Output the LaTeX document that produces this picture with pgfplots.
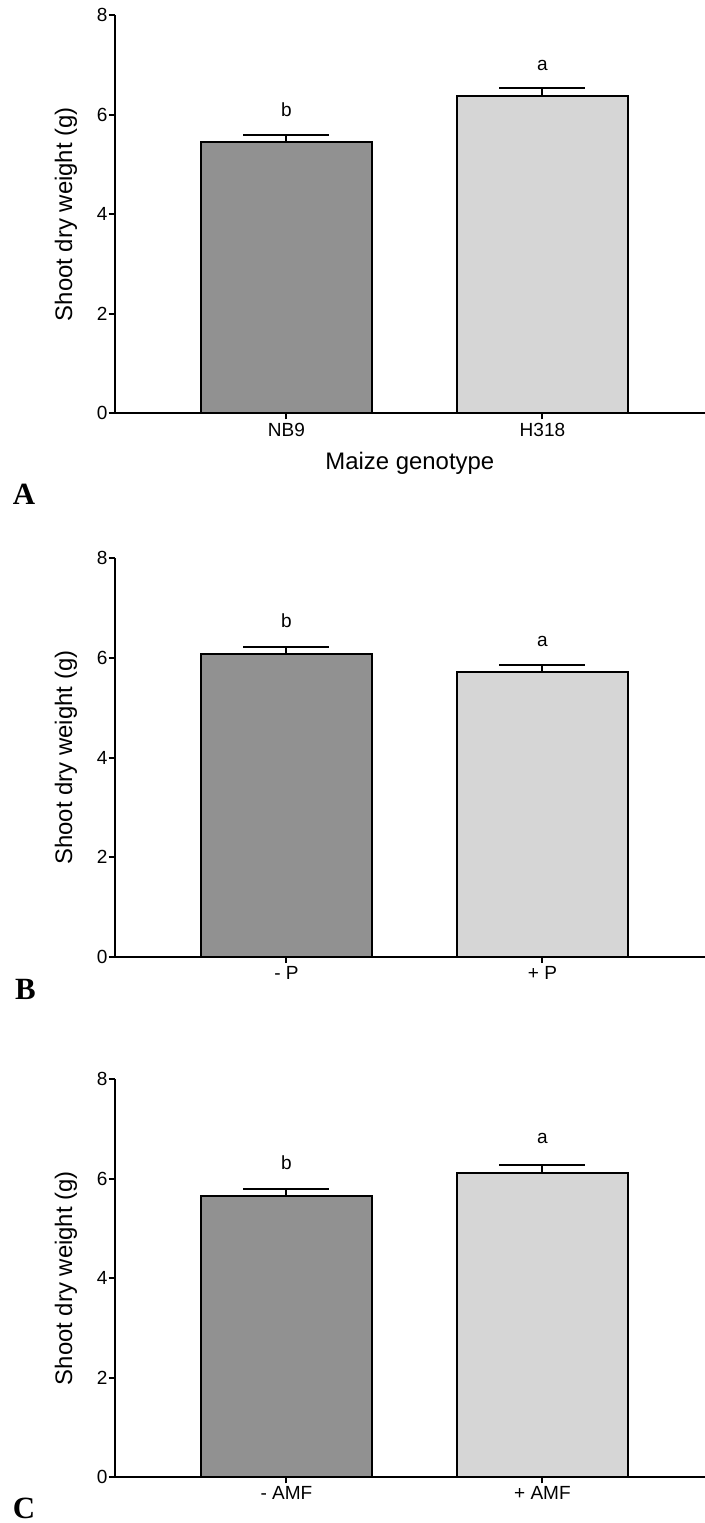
\documentclass[border=0pt]{standalone}
\usepackage{fontspec}
\setmainfont{Liberation Sans}
\newfontfamily\seriffont{Liberation Serif}
\usepackage{pgfplots}
\pgfplotsset{compat=1.18}
\definecolor{darkbar}{RGB}{145,145,145}
\definecolor{lightbar}{RGB}{214,214,214}
\pgfplotsset{
  panel/.style={
    scale only axis, width=590.3bp, height=398.3bp,
    xmin=-0.671, xmax=1.635, ymin=0, ymax=8,
    axis x line*=bottom, axis y line*=left,
    tick pos=left,
    ytick={0,2,4,6,8}, xtick={0,1},
    tick align=outside, major tick length=6bp,
    axis line style={line width=2bp, black},
    tick style={line width=2bp, black},
    ticklabel style={font=\fontsize{19.1pt}{23pt}\selectfont},
    /pgf/number format/assume math mode=true,
    yticklabel style={inner xsep=1bp},
    ylabel={Shoot dry weight (g)},
    ylabel style={font=\fontsize{24pt}{28pt}\selectfont, at={(axis description cs:-0.0826,0.5)}, anchor=center},
    ybar, bar width=171bp, bar shift=0pt,
    clip=false,
  },
  barplot/.style={draw=black, line width=2bp, fill=#1,
    error bars/.cd, y dir=plus, y explicit,
    error bar style={line width=2bp, black},
    error mark options={rotate=90, mark size=43bp, line width=2bp, black}},
}
\tikzset{letter/.style={font=\fontsize{19.1pt}{23pt}\selectfont, anchor=base}}
\begin{document}
\begin{tikzpicture}
\useasboundingbox (0,0) rectangle (705bp,-1523bp);
% Panel A
\begin{axis}[panel, at={(114.7bp,-413.3bp)}, anchor=south west,
  xticklabels={NB9,H318},
  xlabel={Maize genotype},
  xlabel style={font=\fontsize{24pt}{28pt}\selectfont, at={(axis description cs:0.5,-0.125)}, anchor=center}]
\addplot[barplot=darkbar] coordinates {(0,5.45) +- (0,0.13)};
\addplot[barplot=lightbar] coordinates {(1,6.38) +- (0,0.15)};
\node[letter] at (axis cs:0,5.96) {b};
\node[letter] at (axis cs:1,6.88) {a};
\end{axis}
% Panel B
\begin{axis}[panel, at={(114.7bp,-956.7bp)}, anchor=south west,
  xticklabels={- P,+ P}]
\addplot[barplot=darkbar] coordinates {(0,6.07) +- (0,0.16)};
\addplot[barplot=lightbar] coordinates {(1,5.71) +- (0,0.14)};
\node[letter] at (axis cs:0,6.62) {b};
\node[letter] at (axis cs:1,6.24) {a};
\end{axis}
% Panel C
\begin{axis}[panel, at={(114.7bp,-1477.3bp)}, anchor=south west,
  xticklabels={- AMF,+ AMF}]
\addplot[barplot=darkbar] coordinates {(0,5.65) +- (0,0.14)};
\addplot[barplot=lightbar] coordinates {(1,6.12) +- (0,0.15)};
\node[letter] at (axis cs:0,6.19) {b};
\node[letter] at (axis cs:1,6.70) {a};
\end{axis}
\node[anchor=base west, inner sep=0, font={\fontsize{31pt}{34pt}\seriffont\bfseries}] at (12.7bp,-504bp) {A};
\node[anchor=base west, inner sep=0, font={\fontsize{31pt}{34pt}\seriffont\bfseries}] at (15bp,-999bp) {B};
\node[anchor=base west, inner sep=0, font={\fontsize{31pt}{34pt}\seriffont\bfseries}] at (12.7bp,-1518bp) {C};
\end{tikzpicture}
\end{document}
